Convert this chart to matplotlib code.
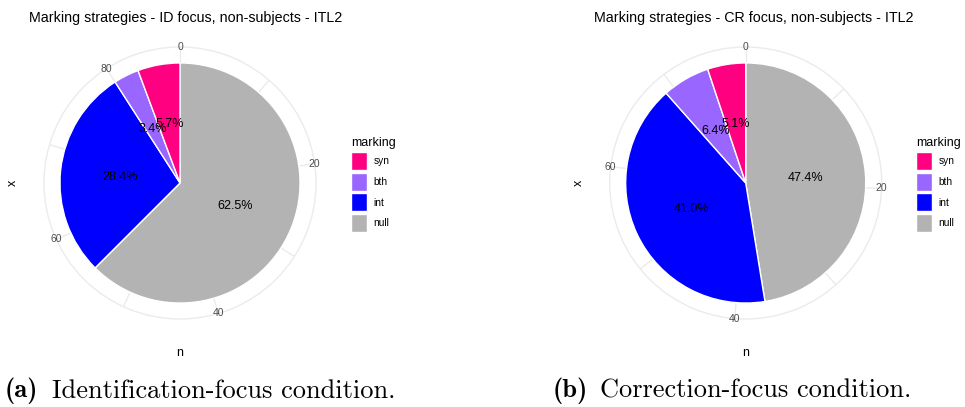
import matplotlib.pyplot as plt
import numpy as np

plt.rcParams['font.family'] = ['Liberation Sans', 'DejaVu Sans']

# data
categories = ['syn', 'bth', 'int', 'null']
colors = ['#ff0080', '#9966ff', '#0000ff', '#b3b3b3']
id_counts = [5, 3, 25, 55]
cr_counts = [4, 5, 32, 37]
titles = ['Marking strategies - ID focus, non-subjects - ITL2',
          'Marking strategies - CR focus, non-subjects - ITL2']
captions = [('(a)', 'Identification-focus condition.'),
            ('(b)', 'Correction-focus condition.')]

W, H = 965, 407
fig = plt.figure(figsize=(W / 100, H / 100), dpi=100)
fig.patch.set_facecolor('white')

GRID = '#ebebeb'
R_OUT = 1.133  # outer circle relative to pie radius


def fx(px):
    return px / W


def fy(py):
    return 1 - py / H


def draw_panel(counts, cx, title, title_x, legend_x):
    total = sum(counts)
    rad = 136
    ax = fig.add_axes([fx(cx - rad), fy(183 + rad), fx(2 * rad), 2 * rad / H],
                      projection='polar')
    ax.set_theta_zero_location('N')
    ax.set_theta_direction(-1)
    ax.set_ylim(0, R_OUT)
    ax.set_yticks([])
    ax.set_axisbelow(True)

    # grid every 10 units, labels every 20
    ticks = np.arange(0, total, 10)
    ax.set_xticks(ticks / total * 2 * np.pi)
    ax.set_xticklabels([])
    ax.tick_params(axis='x', length=0)
    ax.xaxis.grid(True, color=GRID, linewidth=1.0)
    ax.spines['polar'].set_color(GRID)
    ax.spines['polar'].set_linewidth(1.0)
    for t in ticks:
        if t % 20 == 0:
            ax.text(t / total * 2 * np.pi, R_OUT, str(t), ha='center', va='center',
                    fontsize=7.5, color='#4d4d4d')

    # stacked clockwise from the top: null, int, bth, syn
    start = 0
    handles = {}
    for cat, col, c in list(zip(categories, colors, counts))[::-1]:
        th0 = start / total * 2 * np.pi
        w = c / total * 2 * np.pi
        b = ax.bar(th0, 1.0, width=w, bottom=0, align='edge', color=col,
                   edgecolor='white', linewidth=1.0, zorder=3)
        handles[cat] = b
        mid = (start + c / 2) / total * 2 * np.pi
        ax.text(mid, 0.5, f'{100 * c / total:.1f}%', ha='center', va='center',
                fontsize=9, color='black', zorder=5)
        start += c

    fig.text(fx(title_x), fy(18), title, ha='left', va='center', fontsize=10.25)
    fig.text(fx(cx), fy(353), 'n', ha='center', va='center', fontsize=9)
    fig.text(fx(cx - 167), fy(183), 'x', ha='center', va='center', fontsize=9,
             rotation=90)

    fig.legend([handles[c] for c in categories], categories,
               loc='upper left', bbox_to_anchor=(fx(legend_x), fy(137)),
               frameon=False, title='marking', title_fontsize=9,
               fontsize=7.3, handlelength=1.6, handleheight=2.35,
               labelspacing=0.28, handletextpad=0.6, borderpad=0,
               borderaxespad=0, alignment='left')
    return ax


draw_panel(id_counts, 180, titles[0], 29, 351)
draw_panel(cr_counts, 745.7, titles[1], 594, 916)

# subcaptions
cap_pos = [(5, 52), (553, 600)]
for (lab, txt), (x0, x1) in zip(captions, cap_pos):
    fig.text(fx(x0), fy(391), lab, ha='left', va='center', fontsize=19,
             family='cmb10')
    fig.text(fx(x1), fy(391), txt, ha='left', va='center', fontsize=19,
             family='cmr10')

fig.savefig('out.png', dpi=100, facecolor='white')
